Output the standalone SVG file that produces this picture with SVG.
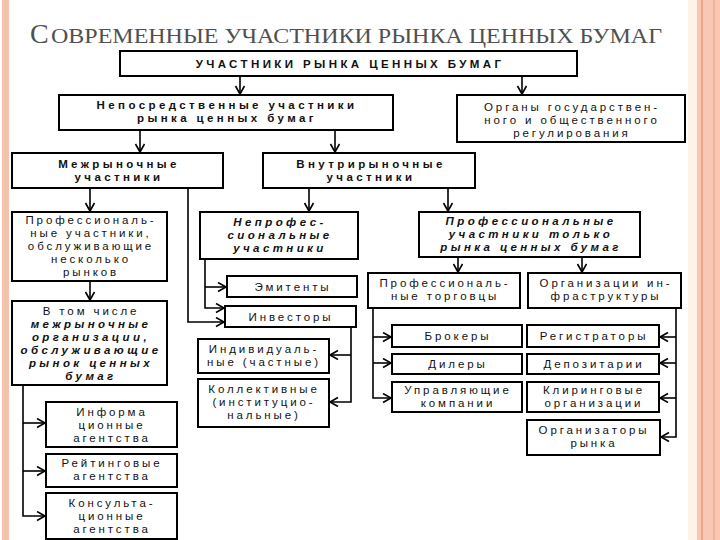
<svg xmlns="http://www.w3.org/2000/svg" width="720" height="540" viewBox="0 0 720 540">
<defs>
<style>
.box{fill:#fff;stroke:#000;stroke-width:2}
.t{font-family:"Liberation Sans",Arial,sans-serif;font-size:11.5px;letter-spacing:2.9px;text-anchor:middle;fill:#111}
.b{font-weight:bold;font-size:11.5px;letter-spacing:3.4px}
.i{font-style:italic}
.c{fill:none;stroke:#000;stroke-width:1.6}
.title{font-family:"Liberation Serif","Times New Roman",serif;fill:#505050}
</style>
<marker id="ah" markerUnits="userSpaceOnUse" markerWidth="12" markerHeight="12" refX="9" refY="5" orient="auto">
<path d="M1,0.5 L9,5 L1,9.5" fill="none" stroke="#000" stroke-width="1.6"/>
</marker>
</defs>
<rect x="0" y="0" width="720" height="540" fill="#fff"/>
<rect x="2" y="0" width="7" height="540" fill="#f5c2ab"/>
<rect x="688" y="0" width="9" height="540" fill="#fdf3e8"/>
<rect x="697" y="0" width="23" height="540" fill="#f8c8b4"/>
<rect x="701" y="0" width="2" height="540" fill="#eea68b"/>
<rect x="713" y="0" width="2" height="540" fill="#f2b39b"/>

<g id="title">
<text class="title" x="30" y="43" font-size="28">С</text>
<text class="title" x="51" y="43" font-size="20" textLength="611" lengthAdjust="spacingAndGlyphs">ОВРЕМЕННЫЕ УЧАСТНИКИ РЫНКА ЦЕННЫХ БУМАГ</text>
</g>

<g id="connectors">
<path class="c" d="M240,76 V94" marker-end="url(#ah)"/>
<path class="c" d="M522,76 V94" marker-end="url(#ah)"/>
<path class="c" d="M140,130 V152" marker-end="url(#ah)"/>
<path class="c" d="M335,130 V152" marker-end="url(#ah)"/>
<path class="c" d="M90,188 V211" marker-end="url(#ah)"/>
<path class="c" d="M188,188 V322 H224" marker-end="url(#ah)"/>
<path class="c" d="M309,188 V211" marker-end="url(#ah)"/>
<path class="c" d="M448,188 V211" marker-end="url(#ah)"/>
<path class="c" d="M205,259 V308 H224" marker-end="url(#ah)"/>
<path class="c" d="M205,287 H226" marker-end="url(#ah)"/>
<path class="c" d="M351,327 V402 H330" marker-end="url(#ah)"/>
<path class="c" d="M351,355 H330" marker-end="url(#ah)"/>
<path class="c" d="M90,281 V300" marker-end="url(#ah)"/>
<path class="c" d="M23,385 V516 H45" marker-end="url(#ah)"/>
<path class="c" d="M23,423 H45" marker-end="url(#ah)"/>
<path class="c" d="M23,471 H45" marker-end="url(#ah)"/>
<path class="c" d="M458,257 V272" marker-end="url(#ah)"/>
<path class="c" d="M582,257 V272" marker-end="url(#ah)"/>
<path class="c" d="M373,308 V398 H391" marker-end="url(#ah)"/>
<path class="c" d="M373,337 H391" marker-end="url(#ah)"/>
<path class="c" d="M373,363 H391" marker-end="url(#ah)"/>
<path class="c" d="M676,308 V437 H661" marker-end="url(#ah)"/>
<path class="c" d="M676,337 H660" marker-end="url(#ah)"/>
<path class="c" d="M676,363 H660" marker-end="url(#ah)"/>
<path class="c" d="M676,398 H660" marker-end="url(#ah)"/>
</g>

<g id="n-top"><rect class="box" x="120" y="51" width="457" height="25"/>
<text class="t b" x="350" y="68">УЧАСТНИКИ РЫНКА ЦЕННЫХ БУМАГ</text></g>

<g id="n-nep"><rect class="box" x="59" y="95" width="334" height="35"/>
<text class="t b" x="227" y="109">Непосредственные участники</text>
<text class="t b" x="227" y="122">рынка ценных бумаг</text></g>

<g id="n-org"><rect class="box" x="457" y="95" width="228" height="47"/>
<text class="t" x="572" y="111">Органы государствен-</text>
<text class="t" x="572" y="124">ного и общественного</text>
<text class="t" x="572" y="137">регулирования</text></g>

<g id="n-mezh"><rect class="box" x="12" y="153" width="211" height="35"/>
<text class="t b" x="119" y="168">Межрыночные</text>
<text class="t b" x="119" y="181">участники</text></g>

<g id="n-vnutr"><rect class="box" x="263" y="153" width="212" height="35"/>
<text class="t b" x="371" y="168">Внутрирыночные</text>
<text class="t b" x="371" y="181">участники</text></g>

<g id="n-prof"><rect class="box" x="12" y="212" width="155" height="69"/>
<text class="t" x="91" y="224">Профессиональ-</text>
<text class="t" x="91" y="237">ные участники,</text>
<text class="t" x="91" y="250">обслуживающие</text>
<text class="t" x="91" y="263">несколько</text>
<text class="t" x="91" y="276">рынков</text></g>

<g id="n-vtch"><rect class="box" x="12" y="301" width="155" height="84"/>
<text class="t" x="91" y="315">В том числе</text>
<text class="t b i" x="91" y="328">межрыночные</text>
<text class="t b i" x="91" y="341">организации,</text>
<text class="t b i" x="91" y="354">обслуживающие</text>
<text class="t b i" x="91" y="367">рынок ценных</text>
<text class="t b i" x="91" y="380">бумаг</text></g>

<g id="n-inf"><rect class="box" x="46" y="402" width="131" height="45"/>
<text class="t" x="112" y="416">Информа</text>
<text class="t" x="112" y="429">ционные</text>
<text class="t" x="112" y="442">агентства</text></g>

<g id="n-rate"><rect class="box" x="46" y="454" width="131" height="33"/>
<text class="t" x="112" y="467">Рейтинговые</text>
<text class="t" x="112" y="480">агентства</text></g>

<g id="n-kons"><rect class="box" x="46" y="493" width="131" height="46"/>
<text class="t" x="112" y="507">Консульта-</text>
<text class="t" x="112" y="520">ционные</text>
<text class="t" x="112" y="533">агентства</text></g>

<g id="n-neprof"><rect class="box" x="200" y="212" width="158" height="47"/>
<text class="t b i" x="280" y="226">Непрофес-</text>
<text class="t b i" x="280" y="239">сиональные</text>
<text class="t b i" x="280" y="252">участники</text></g>

<g id="n-emit"><rect class="box" x="227" y="276" width="130" height="21"/>
<text class="t" x="293" y="291">Эмитенты</text></g>

<g id="n-invest"><rect class="box" x="225" y="306" width="131" height="21"/>
<text class="t" x="291" y="321">Инвесторы</text></g>

<g id="n-indiv"><rect class="box" x="198" y="339" width="131" height="34"/>
<text class="t" x="264" y="353">Индивидуаль-</text>
<text class="t" x="264" y="366">ные (частные)</text></g>

<g id="n-koll"><rect class="box" x="198" y="379" width="131" height="48"/>
<text class="t" x="264" y="393">Коллективные</text>
<text class="t" x="264" y="406">(институцио-</text>
<text class="t" x="264" y="419">нальные)</text></g>

<g id="n-proftolko"><rect class="box" x="419" y="212" width="221" height="45"/>
<text class="t b i" x="531" y="225">Профессиональные</text>
<text class="t b i" x="531" y="238">участники только</text>
<text class="t b i" x="531" y="251">рынка ценных бумаг</text></g>

<g id="n-torg"><rect class="box" x="368" y="273" width="152" height="35"/>
<text class="t" x="445" y="287">Профессиональ-</text>
<text class="t" x="445" y="300">ные торговцы</text></g>

<g id="n-infra"><rect class="box" x="528" y="273" width="153" height="35"/>
<text class="t" x="606" y="287">Организации ин-</text>
<text class="t" x="606" y="300">фраструктуры</text></g>

<g id="n-brok"><rect class="box" x="392" y="325" width="130" height="22"/>
<text class="t" x="458" y="340">Брокеры</text></g>

<g id="n-dil"><rect class="box" x="392" y="354" width="130" height="20"/>
<text class="t" x="458" y="368">Дилеры</text></g>

<g id="n-upr"><rect class="box" x="392" y="382" width="130" height="30"/>
<text class="t" x="458" y="394">Управляющие</text>
<text class="t" x="458" y="407">компании</text></g>

<g id="n-reg"><rect class="box" x="527" y="325" width="132" height="22"/>
<text class="t" x="594" y="340">Регистраторы</text></g>

<g id="n-dep"><rect class="box" x="527" y="354" width="132" height="20"/>
<text class="t" x="594" y="368">Депозитарии</text></g>

<g id="n-klir"><rect class="box" x="527" y="382" width="132" height="30"/>
<text class="t" x="594" y="394">Клиринговые</text>
<text class="t" x="594" y="407">организации</text></g>

<g id="n-orgz"><rect class="box" x="527" y="420" width="133" height="35"/>
<text class="t" x="594" y="434">Организаторы</text>
<text class="t" x="594" y="447">рынка</text></g>
</svg>
